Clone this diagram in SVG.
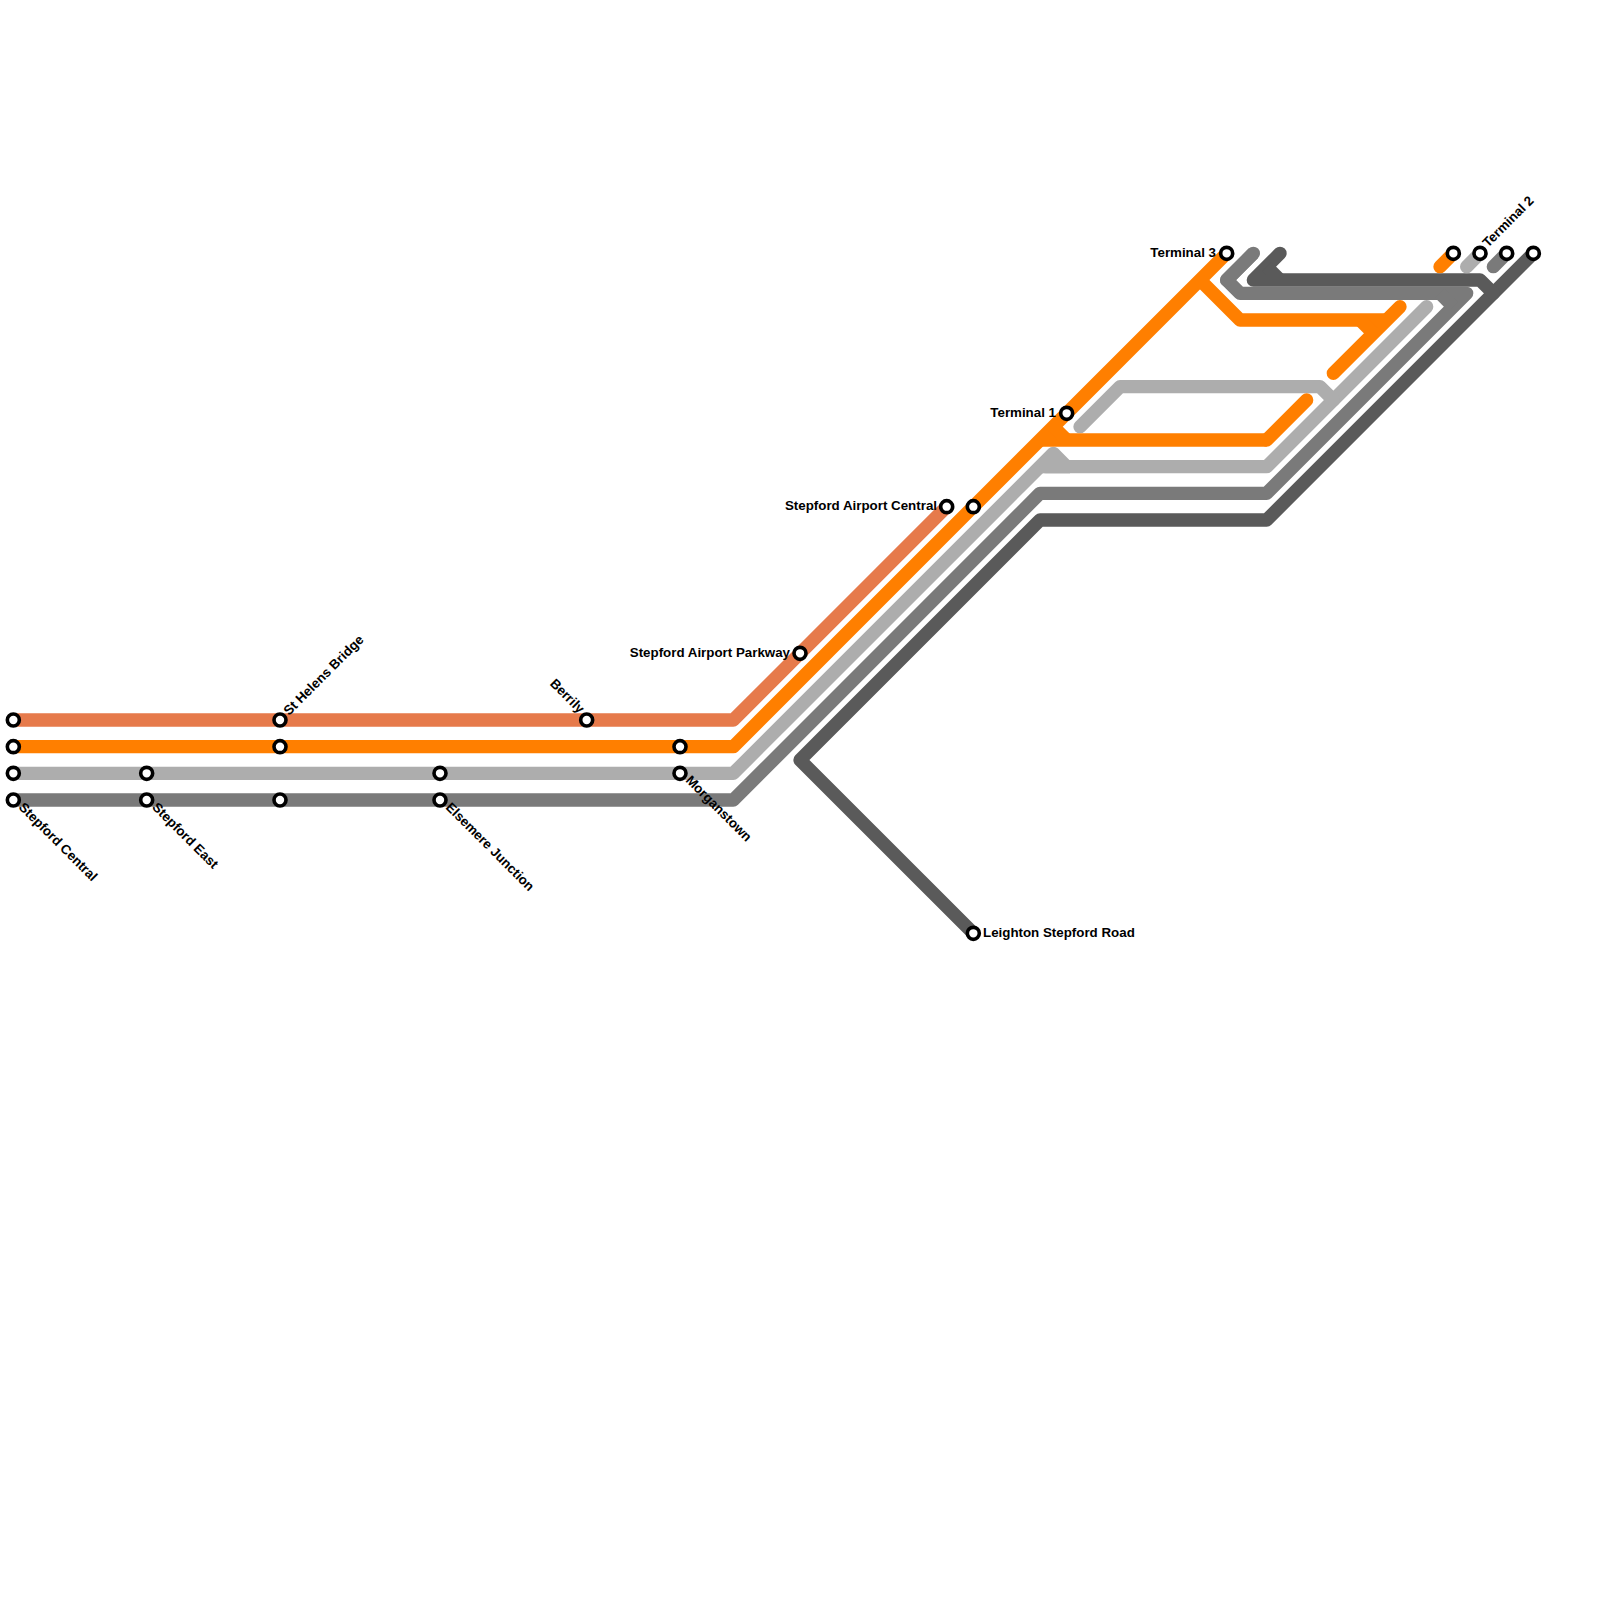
<svg xmlns="http://www.w3.org/2000/svg" width="1600" height="1600" viewBox="0 0 1600 1600">
<style>
.l{fill:none;stroke-width:13.33;stroke-linejoin:round}
.r{stroke-linecap:round}
.a{stroke:#e67a4b}.b{stroke:#ff7f00}.c{stroke:#adadad}.d{stroke:#7a7a7a}.e{stroke:#5a5a5a}
.s circle{fill:#fff;stroke:#000;stroke-width:3.6;r:6px}
text{font-family:"Liberation Sans",Arial,sans-serif;font-size:13.33px;font-weight:700;fill:#000}
.en{text-anchor:end}
</style>
<rect width="1600" height="1600" fill="#fff"/>
<g id="connectors">
<path class="l a" d="M13.33 720H733.33L946.67 506.67"/>
<path class="l e" d="M973.33 933.33L800 760L1040 520H1266.67L1533.33 253.33"/>
<path class="l e r" d="M1280 253.33L1253.33 280H1480L1493.33 293.33"/>
<path class="l e" d="M1266.67 266.67L1280 280"/>
<path class="l d" d="M13.33 800H733.33L1040 493.33H1266.67L1466.67 293.33H1240L1226.67 280L1253.33 253.33"/>
<path class="l d r" d="M1253.33 253.33L1226.67 280"/>
<path class="l d" d="M1440 293.33L1453.33 306.67"/>
<path class="l d r" d="M1493.33 266.67L1506.67 253.33"/>
<path class="l c" d="M13.33 773.33H733.33L1053.33 453.33L1066.67 466.67"/>
<path class="l c r" d="M1046 466.67H1266.67L1426.67 306.67"/>
<path class="l c" d="M1040 466.67H1070"/>
<path class="l c r" d="M1080 426.67L1120 386.67H1320L1333.33 400"/>
<path class="l c r" d="M1466.67 266.67L1480 253.33"/>
<path class="l b" d="M13.33 746.67H733.33L1226.67 253.33"/>
<path class="l b" d="M1200 280L1240 320H1386.67"/>
<path class="l b r" d="M1333.33 373.33L1400 306.67"/>
<path class="l b" d="M1360 320L1373.33 333.33"/>
<path class="l b" d="M1040 440H1266.67"/>
<path class="l b" d="M1053.33 426.67L1066.67 440"/>
<path class="l b r" d="M1266.67 440L1306.67 400"/>
<path class="l b r" d="M1440 266.67L1453.33 253.33"/>
</g>
<g id="n-stepford-central" class="s"><circle cx="13.33" cy="720"/><circle cx="13.33" cy="746.67"/><circle cx="13.33" cy="773.33"/><circle cx="13.33" cy="800"/><text transform="translate(18 808) rotate(45)">Stepford Central</text></g>
<g id="n-stepford-east" class="s"><circle cx="146.67" cy="773.33"/><circle cx="146.67" cy="800"/><text transform="translate(151.5 808) rotate(45)">Stepford East</text></g>
<g id="n-st-helens" class="s"><circle cx="280" cy="720"/><circle cx="280" cy="746.67"/><circle cx="280" cy="800"/><text transform="translate(289 716) rotate(-45)">St Helens Bridge</text></g>
<g id="n-elsemere" class="s"><circle cx="440" cy="773.33"/><circle cx="440" cy="800"/><text transform="translate(445 808) rotate(45)">Elsemere Junction</text></g>
<g id="n-berrily" class="s"><circle cx="586.67" cy="720"/><text class="en" transform="translate(579 714) rotate(45)">Berrily</text></g>
<g id="n-morganstown" class="s"><circle cx="680" cy="746.67"/><circle cx="680" cy="773.33"/><text transform="translate(685 781) rotate(45)">Morganstown</text></g>
<g id="n-parkway" class="s"><circle cx="800" cy="653.33"/><text class="en" x="790" y="657">Stepford Airport Parkway</text></g>
<g id="n-central" class="s"><circle cx="946.67" cy="506.67"/><circle cx="973.33" cy="506.67"/><text class="en" x="937" y="510">Stepford Airport Central</text></g>
<g id="n-leighton" class="s"><circle cx="973.33" cy="933.33"/><text x="983" y="937">Leighton Stepford Road</text></g>
<g id="n-terminal-1" class="s"><circle cx="1066.67" cy="413.33"/><text class="en" x="1056" y="417">Terminal 1</text></g>
<g id="n-terminal-3" class="s"><circle cx="1226.67" cy="253.33"/><text class="en" x="1216" y="257">Terminal 3</text></g>
<g id="n-terminal-2" class="s"><circle cx="1453.33" cy="253.33"/><circle cx="1480" cy="253.33"/><circle cx="1506.67" cy="253.33"/><circle cx="1533.33" cy="253.33"/><text transform="translate(1488 248) rotate(-45)">Terminal 2</text></g>
</svg>
